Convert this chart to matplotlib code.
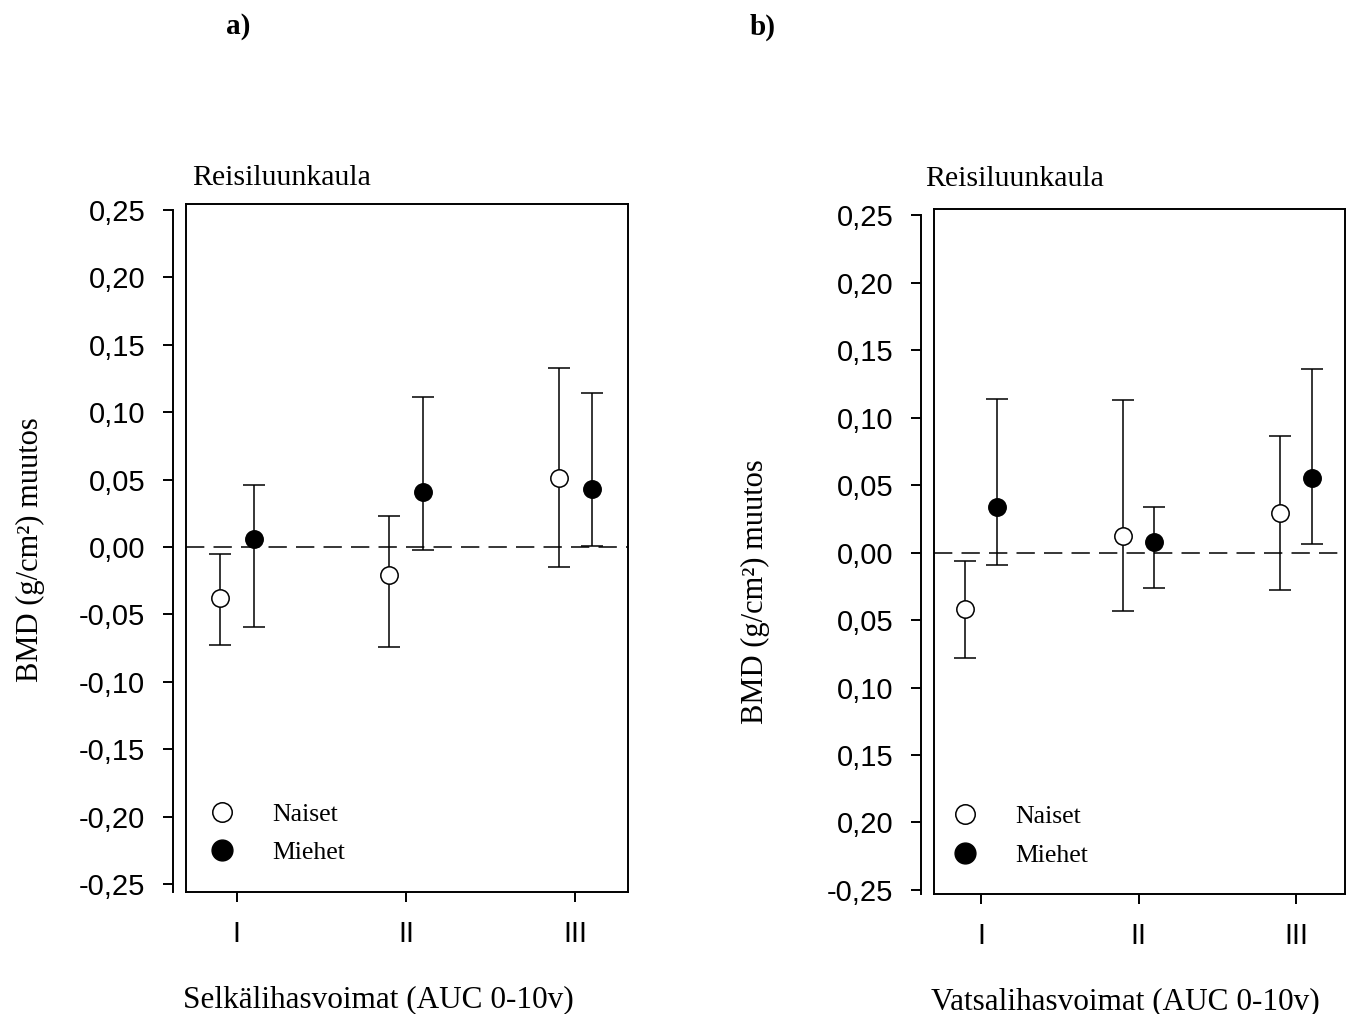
import numpy as np
import matplotlib

matplotlib.use('Agg')
import matplotlib.pyplot as plt
from matplotlib.lines import Line2D

# Data (BMD change, g/cm2)
groups = ['I', 'II', 'III']
legend_labels = ['Naiset', 'Miehet']

# panel a) Selkalihasvoimat
a_naiset = [-0.038, -0.021, 0.051]
a_naiset_lo = [-0.073, -0.074, -0.015]
a_naiset_hi = [-0.005, 0.023, 0.133]
a_miehet = [0.006, 0.041, 0.043]
a_miehet_lo = [-0.059, -0.002, 0.001]
a_miehet_hi = [0.046, 0.111, 0.114]

# panel b) Vatsalihasvoimat
b_naiset = [-0.042, 0.012, 0.029]
b_naiset_lo = [-0.078, -0.043, -0.028]
b_naiset_hi = [-0.006, 0.113, 0.086]
b_miehet = [0.034, 0.008, 0.055]
b_miehet_lo = [-0.009, -0.026, 0.006]
b_miehet_hi = [0.114, 0.034, 0.136]

yticks = [0.25, 0.20, 0.15, 0.10, 0.05, 0.00, -0.05, -0.10, -0.15, -0.20, -0.25]
a_yticklabels = ['0,25', '0,20', '0,15', '0,10', '0,05', '0,00',
                 '-0,05', '-0,10', '-0,15', '-0,20', '-0,25']
b_yticklabels = ['0,25', '0,20', '0,15', '0,10', '0,05', '0,00',
                 '0,05', '0,10', '0,15', '0,20', '-0,25']

SERIF = 'Liberation Serif'
SANS = 'Liberation Sans'


def draw_panel(ax, naiset, n_lo, n_hi, miehet, m_lo, m_hi, yticklabels, ylim,
               xlabel, xlabel_pos, ylabel_pos, title_pos):
    x = np.arange(1, len(groups) + 1)
    off = 0.1
    n = np.array(naiset)
    m = np.array(miehet)
    n_err = [n - np.array(n_lo), np.array(n_hi) - n]
    m_err = [m - np.array(m_lo), np.array(m_hi) - m]

    ax.axhline(0, color='black', lw=1.1, dashes=(12, 6), zorder=1)

    common = dict(fmt='o', ecolor='black', elinewidth=1.1, capsize=8, capthick=1.1,
                  markersize=12.5, markeredgecolor='black', markeredgewidth=1.1, zorder=3)
    ax.errorbar(x - off, n, yerr=n_err, markerfacecolor='white', **common)
    ax.errorbar(x + off, m, yerr=m_err, markerfacecolor='black', **common)

    ax.set_xlim(0.70, 3.31)
    ax.set_ylim(*ylim)

    for s in ax.spines.values():
        s.set_linewidth(1.4)
    ax.spines['left'].set_position(('outward', 9.4))
    ax.spines['left'].set_bounds(ylim[0], 0.25)
    # box edge on the left, the y axis line is pushed outward
    ax.plot([0, 0], [0, 1], transform=ax.transAxes, color='black', lw=1.4, clip_on=False)

    ax.set_xticks(x)
    ax.set_xticklabels(groups, fontfamily=SANS, fontsize=21)
    ax.set_yticks(yticks)
    ax.set_yticklabels(yticklabels, fontfamily=SANS, fontsize=21)
    ax.tick_params(axis='x', direction='out', length=7, width=1.4, pad=13)
    ax.tick_params(axis='y', direction='out', length=7, width=1.4, pad=13)
    ax.tick_params(top=False, right=False)

    ax.set_xlabel(xlabel, fontfamily=SERIF, fontsize=22.5)
    ax.xaxis.set_label_coords(*xlabel_pos)
    ax.set_ylabel('BMD (g/cm²) muutos', fontfamily=SERIF, fontsize=22)
    ax.yaxis.set_label_coords(*ylabel_pos)

    ax.text(title_pos[0], title_pos[1], 'Reisiluunkaula', transform=ax.transAxes,
            fontfamily=SERIF, fontsize=21.5, ha='left', va='center')

    handles = [
        Line2D([], [], marker='o', ls='none', markersize=14, markerfacecolor='white',
               markeredgecolor='black', markeredgewidth=1.1),
        Line2D([], [], marker='o', ls='none', markersize=15, markerfacecolor='black',
               markeredgecolor='black'),
    ]
    ax.legend(handles, legend_labels, loc='upper left',
              bbox_to_anchor=(title_pos[2], title_pos[3]),
              frameon=False, borderpad=0, borderaxespad=0, handlelength=1.0,
              handletextpad=1.45, labelspacing=0.62,
              prop={'family': SERIF, 'size': 18.5})


fig = plt.figure(figsize=(13.54, 10.14), dpi=100)
ax_a = fig.add_axes([0.1374, 0.1203, 0.3264, 0.6785])
ax_b = fig.add_axes([0.6898, 0.1183, 0.3035, 0.6755])

draw_panel(ax_a, a_naiset, a_naiset_lo, a_naiset_hi, a_miehet, a_miehet_lo, a_miehet_hi,
           a_yticklabels, (-0.2559, 0.2545), 'Selkälihasvoimat (AUC 0-10v)',
           (0.436, -0.135), (-0.319, 0.497), (0.0136, 1.038, 0.052, 0.130))
draw_panel(ax_b, b_naiset, b_naiset_lo, b_naiset_hi, b_miehet, b_miehet_lo, b_miehet_hi,
           b_yticklabels, (-0.253, 0.2544), 'Vatsalihasvoimat (AUC 0-10v)',
           (0.465, -0.136), (-0.399, 0.441), (-0.022, 1.044, 0.044, 0.130))

fig.text(238 / 1354, 1 - 27 / 1014, 'a)', fontfamily=SERIF, fontweight='bold',
         fontsize=21, ha='center', va='center')
fig.text(763 / 1354, 1 - 27 / 1014, 'b)', fontfamily=SERIF, fontweight='bold',
         fontsize=21, ha='center', va='center')

fig.savefig('out.png', dpi=100)
plt.close(fig)
